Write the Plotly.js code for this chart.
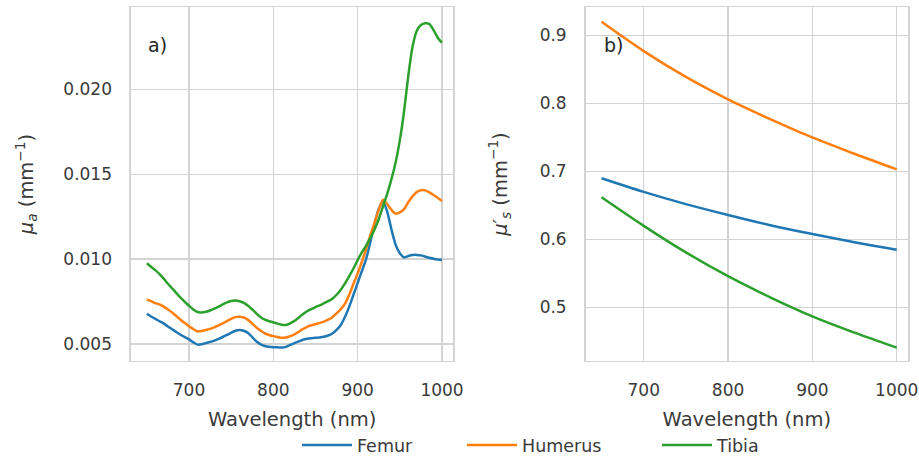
<!DOCTYPE html>
<html>
<head>
<meta charset="utf-8">
<script src="https://cdn.plot.ly/plotly-3.0.1.min.js"></script>
<style>
  html, body { margin: 0; padding: 0; background: #ffffff; }
  #chart { width: 919px; height: 463px; }
</style>
</head>
<body>
<div id="chart"></div>
<script>
// Wavelength grid (nm) for the absorption spectra, panel a)
const wavelengthA = [
  650, 655, 660, 665, 670, 675, 680, 685, 690, 695,
  700, 705, 710, 715, 720, 725, 730, 735, 740, 745,
  750, 755, 760, 765, 770, 775, 780, 785, 790, 795,
  800, 805, 810, 815, 820, 825, 830, 835, 840, 845,
  850, 855, 860, 865, 870, 875, 880, 885, 890, 895,
  900, 905, 910, 915, 920, 925, 930, 935, 940, 945,
  950, 955, 960, 965, 970, 975, 980, 985, 990, 995, 1000
];

// Absorption coefficient mu_a (mm^-1)
const muaFemur = [
  0.00678, 0.00662, 0.00648, 0.00634, 0.00620, 0.00603, 0.00587, 0.00570, 0.00554, 0.00540,
  0.00527, 0.00510, 0.00496, 0.00498, 0.00505, 0.00512, 0.00520, 0.00530, 0.00541, 0.00553,
  0.00566, 0.00578, 0.00583, 0.00578, 0.00565, 0.00540, 0.00514, 0.00498, 0.00488, 0.00483,
  0.00481, 0.00480, 0.00479, 0.00483, 0.00494, 0.00505, 0.00515, 0.00525, 0.00531, 0.00534,
  0.00536, 0.00538, 0.00542, 0.00550, 0.00562, 0.00583, 0.00612, 0.00660, 0.00720, 0.00790,
  0.00860, 0.00930, 0.01000, 0.01100, 0.01210, 0.01295, 0.01340, 0.01280, 0.01176, 0.01085,
  0.01035, 0.01010, 0.01018, 0.01024, 0.01025, 0.01022, 0.01015, 0.01008, 0.01002, 0.00998, 0.00996
];
const muaHumerus = [
  0.00761, 0.00752, 0.00741, 0.00733, 0.00720, 0.00703, 0.00685, 0.00664, 0.00643, 0.00623,
  0.00604, 0.00588, 0.00574, 0.00577, 0.00583, 0.00589, 0.00598, 0.00610, 0.00621, 0.00635,
  0.00648, 0.00658, 0.00661, 0.00656, 0.00642, 0.00620, 0.00597, 0.00578, 0.00563, 0.00553,
  0.00546, 0.00541, 0.00536, 0.00538, 0.00546, 0.00557, 0.00572, 0.00588, 0.00601, 0.00610,
  0.00617, 0.00624, 0.00632, 0.00643, 0.00658, 0.00680, 0.00705, 0.00738, 0.00790, 0.00855,
  0.00915, 0.00985, 0.01060, 0.01140, 0.01215, 0.01290, 0.01350, 0.01325, 0.01290, 0.01268,
  0.01275, 0.01295, 0.01335, 0.01370, 0.01395, 0.01406, 0.01405, 0.01394, 0.01378, 0.01360, 0.01343
];
const muaTibia = [
  0.00976, 0.00955, 0.00935, 0.00912, 0.00885, 0.00855, 0.00828, 0.00800, 0.00773, 0.00748,
  0.00725, 0.00703, 0.00688, 0.00686, 0.00690, 0.00697, 0.00708, 0.00720, 0.00733, 0.00745,
  0.00753, 0.00756, 0.00752, 0.00742, 0.00725, 0.00703, 0.00679, 0.00658, 0.00643, 0.00634,
  0.00627, 0.00620, 0.00613, 0.00612, 0.00622, 0.00636, 0.00655, 0.00675, 0.00693, 0.00705,
  0.00717, 0.00728, 0.00740, 0.00752, 0.00767, 0.00790, 0.00820, 0.00857, 0.00900, 0.00945,
  0.00995, 0.01040, 0.01080, 0.01125, 0.01175, 0.01235, 0.01310, 0.01385, 0.01470, 0.01570,
  0.01700, 0.01870, 0.02080, 0.02250, 0.02345, 0.02380, 0.02390, 0.02386, 0.02350, 0.02305, 0.02275
];

// Wavelength grid (nm) for the reduced scattering spectra, panel b)
const wavelengthB = [650, 700, 750, 800, 850, 900, 950, 1000];

// Reduced scattering coefficient mu_s' (mm^-1)
const musFemur   = [0.690, 0.670, 0.652, 0.636, 0.621, 0.608, 0.596, 0.585];
const musHumerus = [0.920, 0.877, 0.839, 0.806, 0.777, 0.750, 0.726, 0.703];
const musTibia   = [0.662, 0.620, 0.581, 0.546, 0.515, 0.487, 0.463, 0.441];

const boneNames = ['Femur', 'Humerus', 'Tibia'];
const boneColors = ['#1f77b4', '#ff7f0e', '#2ca02c'];
const xTicks = [700, 800, 900, 1000];
const muaTicks = [0.005, 0.010, 0.015, 0.020];
const muaTickText = ['0.005', '0.010', '0.015', '0.020'];
const musTicks = [0.5, 0.6, 0.7, 0.8, 0.9];

const W = 919, H = 463;
const FONT = 'DejaVu Sans, Liberation Sans, sans-serif';
const TEXT = '#3a3a3a';
const GRID = '#d3d3d3';

const muaSeries = [muaFemur, muaHumerus, muaTibia];
const musSeries = [musFemur, musHumerus, musTibia];
// one legend box per bone so the entries sit in separate columns
const legendIds = ['legend', 'legend2', 'legend3'];

const traces = [];
boneNames.forEach((name, i) => {
  traces.push({
    x: wavelengthA, y: muaSeries[i], xaxis: 'x', yaxis: 'y',
    type: 'scatter', mode: 'lines', name: name, legendgroup: name,
    legend: legendIds[i],
    line: { color: boneColors[i], width: 2.5, shape: 'spline', smoothing: 0.6 },
    showlegend: true
  });
});
boneNames.forEach((name, i) => {
  traces.push({
    x: wavelengthB, y: musSeries[i], xaxis: 'x2', yaxis: 'y2',
    type: 'scatter', mode: 'lines', name: name, legendgroup: name,
    line: { color: boneColors[i], width: 2.5, shape: 'spline', smoothing: 1 },
    showlegend: false
  });
});

// pixel -> paper helpers
const px = v => v / W;
const py = v => 1 - v / H;
const boxTop = 7.3, boxBottom = 364;

const axisCommon = {
  showgrid: true, gridcolor: GRID, gridwidth: 1.3,
  showline: true, linecolor: GRID, linewidth: 1.6, mirror: true,
  zeroline: false, ticks: '',
  tickfont: { family: FONT, size: 17, color: TEXT },
  ticklabelstandoff: 13
};

const legendBox = x => ({
  orientation: 'h', x: px(x), xanchor: 'left', y: py(449), yanchor: 'middle',
  font: { family: FONT, size: 17.5, color: TEXT },
  itemwidth: 50, bgcolor: 'rgba(0,0,0,0)'
});

const layout = {
  width: W, height: H,
  margin: { l: 0, r: 0, t: 0, b: 0 },
  paper_bgcolor: '#ffffff', plot_bgcolor: '#ffffff',
  font: { family: FONT, color: TEXT },
  showlegend: true,
  legend: legendBox(297),
  legend2: legendBox(462),
  legend3: legendBox(657),
  xaxis: Object.assign({}, axisCommon, {
    domain: [px(131), px(453.3)], range: [631.2, 1013.4], anchor: 'y',
    tickvals: xTicks,
    title: { text: 'Wavelength (nm)', font: { family: FONT, size: 19.5, color: TEXT }, standoff: 13 }
  }),
  yaxis: Object.assign({}, axisCommon, {
    domain: [py(boxBottom), py(boxTop)], range: [0.004004, 0.024846], anchor: 'x',
    tickvals: muaTicks, ticktext: muaTickText, ticklabelstandoff: 14,
    title: { text: '<i>μ</i><sub><i>a</i></sub> (mm<sup>−1</sup>)', font: { family: FONT, size: 19.5, color: TEXT }, standoff: 24 }
  }),
  xaxis2: Object.assign({}, axisCommon, {
    domain: [px(585.7), px(908)], range: [631.2, 1013.4], anchor: 'y2',
    tickvals: xTicks,
    title: { text: 'Wavelength (nm)', font: { family: FONT, size: 19.5, color: TEXT }, standoff: 13 }
  }),
  yaxis2: Object.assign({}, axisCommon, {
    domain: [py(boxBottom), py(boxTop)], range: [0.4215, 0.9415], anchor: 'x2',
    tickvals: musTicks, ticklabelstandoff: 14,
    title: { text: '<i>μ′</i><sub><i>s</i></sub> (mm<sup>−1</sup>)', font: { family: FONT, size: 19.5, color: TEXT }, standoff: 27 }
  }),
  annotations: [
    { text: 'a)', xref: 'paper', yref: 'paper', x: px(146), y: py(45), xanchor: 'left', yanchor: 'middle',
      showarrow: false, font: { family: FONT, size: 19, color: '#262626' } },
    { text: 'b)', xref: 'paper', yref: 'paper', x: px(602), y: py(45), xanchor: 'left', yanchor: 'middle',
      showarrow: false, font: { family: FONT, size: 19, color: '#262626' } }
  ]
};

Plotly.newPlot('chart', traces, layout, { staticPlot: true, displayModeBar: false });
</script>
</body>
</html>
